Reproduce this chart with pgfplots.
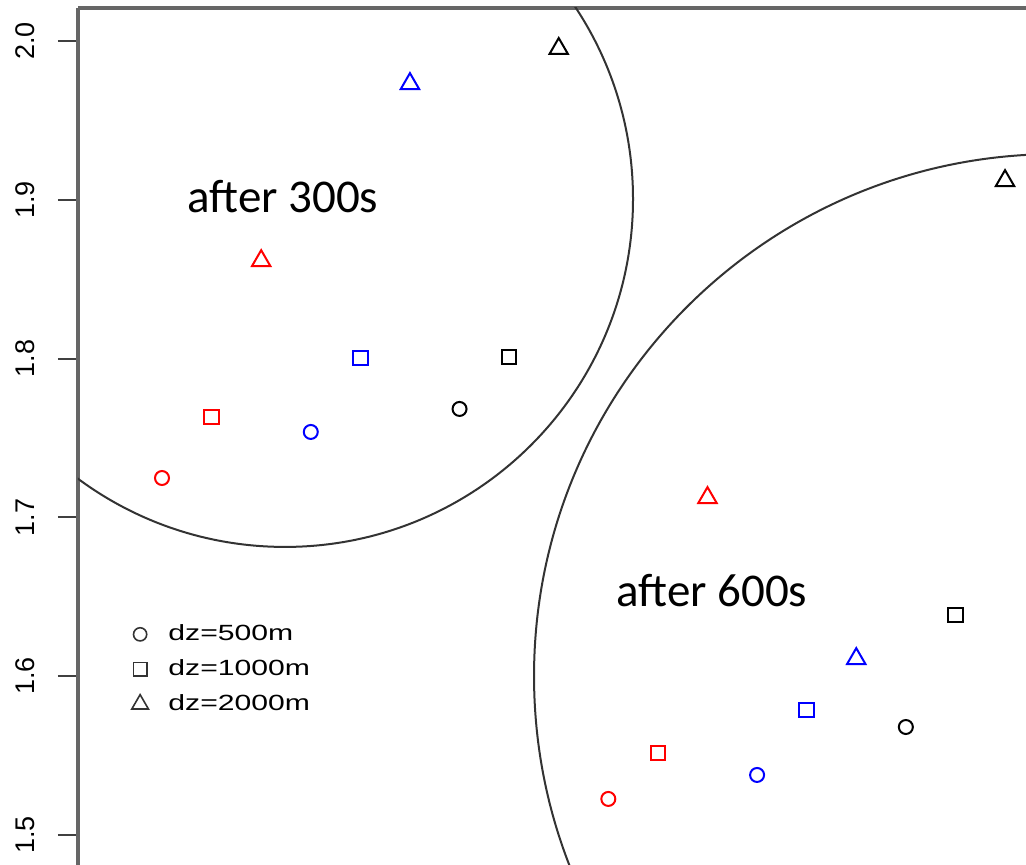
\documentclass[border=0pt]{standalone}
\usepackage{pgfplots}
\pgfplotsset{compat=1.18}
\usepackage{fontspec}
\setmainfont{Liberation Sans}
\newfontfamily\lfont[FakeStretch=1.37]{Liberation Sans}
\newfontfamily\cfont{Carlito}
\begin{document}
\begin{tikzpicture}
\begin{axis}[
  scale only axis, width=474pt, height=428.5pt,
  xmin=-0.694, xmax=18.423, ymin=1.4811, ymax=2.0208,
  axis x line*=top, axis y line*=left,
  xtick=\empty,
  ytick={1.5,1.6,1.7,1.8,1.9,2.0},
  yticklabels={1.5,1.6,1.7,1.8,1.9,2.0},
  yticklabel style={rotate=90, anchor=south, font=\fontsize{13.5}{16}\selectfont, inner sep=0pt},
  yticklabel shift=11.5pt,
  tick align=outside, major tick length=10pt,
  tick style={black!75, line width=1pt},
  axis line style={black!60, line width=1.6pt},
  legend style={draw=none, fill=none, at={(axis description cs:0.05,0.29)}, anchor=north west,
    font=\lfont\fontsize{11}{13}\selectfont, legend cell align=left, row sep=4pt,
    /tikz/every odd column/.append style={column sep=8pt}},
]
\addplot[only marks, mark=o, red, mark size=3.5pt, line width=1pt, forget plot] coordinates {(1,1.7248) (10,1.5227)};
\addplot[only marks, mark=square, red, mark size=3.6pt, line width=1pt, forget plot] coordinates {(2,1.7632) (11,1.5516)};
\addplot[only marks, mark=triangle, red, mark size=5.3pt, line width=1pt, forget plot] coordinates {(3,1.8616) (12,1.7124)};
\addplot[only marks, mark=o, blue, mark size=3.5pt, line width=1pt, forget plot] coordinates {(4,1.7538) (13,1.5378)};
\addplot[only marks, mark=square, blue, mark size=3.6pt, line width=1pt, forget plot] coordinates {(5,1.8004) (14,1.5787)};
\addplot[only marks, mark=triangle, blue, mark size=5.3pt, line width=1pt, forget plot] coordinates {(6,1.9731) (15,1.6110)};
\addplot[only marks, mark=o, black, mark size=3.5pt, line width=1pt, forget plot] coordinates {(7,1.7683) (16,1.5680)};
\addplot[only marks, mark=square, black, mark size=3.6pt, line width=1pt, forget plot] coordinates {(8,1.8010) (17,1.6385)};
\addplot[only marks, mark=triangle, black, mark size=5.3pt, line width=1pt, forget plot] coordinates {(9,1.9952) (18,1.9120)};
\addlegendimage{only marks, mark=o, black!80, mark size=3.3pt, line width=0.8pt}
\addlegendentry{dz=500m}
\addlegendimage{only marks, mark=square, black!80, mark size=3.3pt, line width=0.8pt}
\addlegendentry{dz=1000m}
\addlegendimage{only marks, mark=triangle, black!80, mark size=4.8pt, line width=0.8pt}
\addlegendentry{dz=2000m}
\draw[black!80, line width=1pt] (axis cs:3.480,1.9005) ellipse [x radius=7.018, y radius=0.2191];
\draw[black!80, line width=1pt] (axis cs:19.028,1.6001) ellipse [x radius=10.526, y radius=0.3287];
\node[anchor=base west, inner sep=0pt, font=\cfont\fontsize{23.5}{28}\selectfont] at (axis cs:1.504,1.8917) {after 300s};
\node[anchor=base west, inner sep=0pt, font=\cfont\fontsize{23.5}{28}\selectfont] at (axis cs:10.155,1.6436) {after 600s};
\coordinate (bl) at (rel axis cs:0,0);
\coordinate (tr) at (rel axis cs:1,1);
\end{axis}
\pgfresetboundingbox
\path[use as bounding box] ([xshift=-39pt]bl) rectangle ([yshift=4pt]tr);
\end{tikzpicture}
\end{document}
